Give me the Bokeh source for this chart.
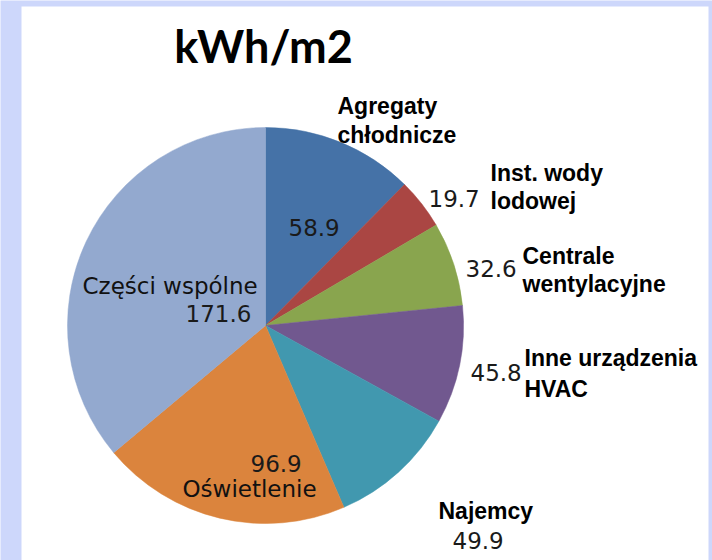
import numpy as np
from bokeh.plotting import figure
from bokeh.models import Range1d, ColumnDataSource
from bokeh.core.properties import value
from bokeh.embed import file_html
from bokeh.resources import INLINE

# ---- data ----
categories = ["Agregaty chłodnicze", "Inst. wody lodowej", "Centrale wentylacyjne",
              "Inne urządzenia HVAC", "Najemcy", "Oświetlenie", "Części wspólne"]
values = [58.9, 19.7, 32.6, 45.8, 49.9, 96.9, 171.6]
title_text = "kWh/m2"

# ---- styles / layout ----
colors = ["#4572A7", "#AA4643", "#89A54E", "#71588F", "#4198AF", "#DB843D", "#93A9CF"]
name_lines = [["Agregaty", "chłodnicze"], ["Inst. wody", "lodowej"], ["Centrale", "wentylacyjne"],
              ["Inne urządzenia", "HVAC"], ["Najemcy"], ["Oświetlenie"], ["Części wspólne"]]
name_bold = [True, True, True, True, True, False, False]
# page-pixel anchors (left x, alphabetic baseline y)
name_pos = [(337, 105), (490, 172), (522, 255), (524, 357), (438, 510), (182, 488), (82, 285)]
line_gap = [29, 28, 28, 31, 0, 0, 0]
value_pos = [(288, 227), (428, 198), (465, 268), (470, 372), (452, 540), (250, 463), (185, 313)]

BG = "#CDD7FB"
W, H = 712, 560
cx, cy, R = 265, 325, 198


def Y(page_y):
    return H - page_y


p = figure(width=W, height=H, x_range=Range1d(0, W), y_range=Range1d(0, H),
           output_backend="svg", toolbar_location=None, min_border=0,
           border_fill_color=BG, background_fill_color=BG)
p.axis.visible = False
p.grid.visible = False
p.outline_line_color = None

# white panel
p.quad(left=[21], right=[708], bottom=[Y(560)], top=[Y(6)], fill_color="white", line_color=None)

# pie
vals = np.array(values)
frac = vals / vals.sum()
cum = np.concatenate([[0], np.cumsum(frac)])
start = np.pi / 2 - 2 * np.pi * cum[1:]
end = np.pi / 2 - 2 * np.pi * cum[:-1]
src = ColumnDataSource(dict(x=[cx] * len(vals), y=[Y(cy)] * len(vals), start=start, end=end,
                            color=colors, cat=categories, val=values))
p.wedge(x="x", y="y", radius=R, radius_units="screen", start_angle="start", end_angle="end",
        fill_color="color", line_color="color", line_width=0.5, source=src)

# title
p.text(x=[263], y=[Y(45)], text=[title_text], text_font=value("Lato"), text_font_style="bold",
       text_font_size="45px", text_align="center", text_baseline="alphabetic", text_color="black")

# names
for lines, bold, (nx, ny), gap in zip(name_lines, name_bold, name_pos, line_gap):
    xs = [nx] * len(lines)
    ys = [Y(ny + i * gap) for i in range(len(lines))]
    if bold:
        p.text(x=xs, y=ys, text=lines, text_font=value("Liberation Sans"), text_font_style="bold",
               text_font_size="23px", text_align="left", text_baseline="alphabetic",
               text_color="black")
    else:
        p.text(x=xs, y=ys, text=lines, text_font=value("DejaVu Sans"),
               text_font_size="23px", text_align="left", text_baseline="alphabetic",
               text_color="#111111")

# values
p.text(x=[v[0] for v in value_pos], y=[Y(v[1]) for v in value_pos],
       text=[f"{v:.1f}" for v in values], text_font=value("DejaVu Sans"),
       text_font_size="23px", text_align="left", text_baseline="alphabetic", text_color="#1a1a1a")

open("out.html", "w").write(file_html(p, INLINE))
